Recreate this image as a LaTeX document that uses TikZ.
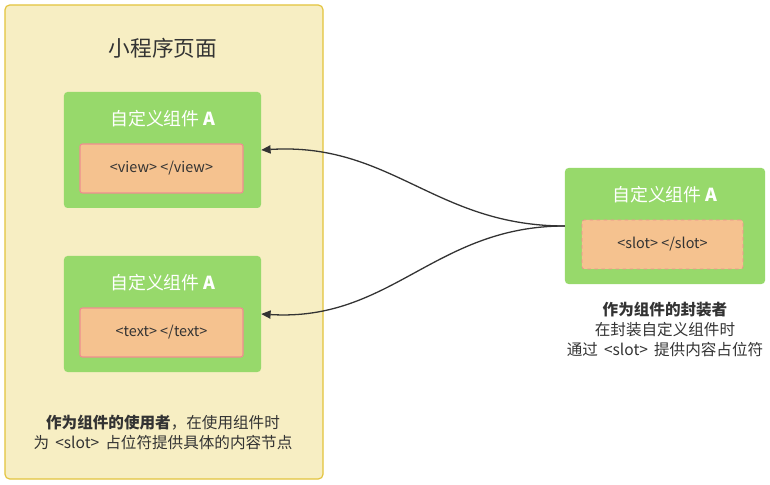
\documentclass[tikz,border=0pt]{standalone}
\usepackage{fontspec}
\setmainfont{Noto Sans CJK SC}
\usepackage{xcolor}
\definecolor{pagefill}{HTML}{F7EEC3}
\definecolor{pageline}{HTML}{E3C33C}
\definecolor{compgreen}{HTML}{97D96B}
\definecolor{slotfill}{HTML}{F5C28F}
\definecolor{slotline}{HTML}{EE8F8F}
\definecolor{txtgray}{HTML}{333333}
\usetikzlibrary{arrows.meta,positioning}

\begin{document}
\begin{tikzpicture}[x=0.03cm, y=-0.03cm,
  comp/.style={fill=compgreen, draw=none, rounded corners=3pt, minimum width=5.91cm, minimum height=3.48cm},
  comptitle/.style={font=\fontsize{15.3}{18}\selectfont, white},
  slotbox/.style={fill=slotfill, draw=slotline, line width=1pt, rounded corners=2pt, minimum width=4.89cm, minimum height=1.47cm, font=\fontsize{12.3}{14}\selectfont, text=txtgray},
  note/.style={font=\fontsize{13.3}{16.8}\selectfont, text=txtgray, align=center},
  link/.style={-{Triangle[length=8pt,width=7pt]}, txtgray, line width=1.1pt}]

\useasboundingbox (0,0) rectangle (770,485);

% --- Page: mini program ---
\node[fill=pagefill, draw=pageline, line width=1pt, rounded corners=4pt,
      minimum width=9.54cm, minimum height=14.22cm] (page) at (164,242) {};
\node[font=\fontsize{18.5}{22}\selectfont, txtgray] (pagetitle) at (163,48) {小程序页面};

% Component used with <view>
\node[comp] (useA) at (162.5,150) {};
\node[comptitle] (useAtitle) at (163,119) {自定义组件 \textbf{A}};
\node[slotbox] (viewslot) at (161.5,168.5) {<view> </view>};

% Component used with <text>
\node[comp] (useB) at (162.5,314) {};
\node[comptitle] (useBtitle) at (163,283) {自定义组件 \textbf{A}};
\node[slotbox] (textslot) at (161.5,332.5) {<text> </text>};

\node[note] (usernote) at (163,432.5) {\textbf{作为组件的使用者}，在使用组件时\\为 \,<slot>\, 占位符提供具体的内容节点};

% --- Component definition ---
\node[comp, minimum width=6.0cm] (defA) at (665,226) {};
\node[comptitle] (defAtitle) at (665,195) {自定义组件 \textbf{A}};
\node[slotbox, minimum width=4.83cm, dashed, line width=0.6pt] (slotdef) at (662.5,244.5) {<slot> </slot>};

\node[note, below=0.42cm of defA] (authornote) {\textbf{作为组件的封装者}\\在封装自定义组件时\\通过 \,<slot>\, 提供内容占位符};

% Connectors
\draw[link] (defA.west) .. controls +(-130,0) and +(130,-8) .. (useA.east);
\draw[link] (defA.west) .. controls +(-130,0) and +(130,8) .. (useB.east);

\end{tikzpicture}
\end{document}
